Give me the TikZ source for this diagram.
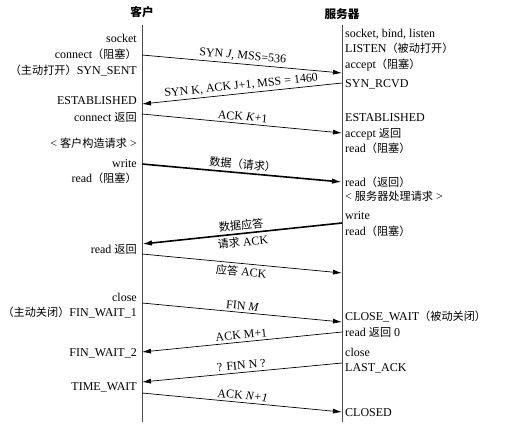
\documentclass[tikz,border=0pt]{standalone}
\usepackage{fontspec}
\setmainfont{Liberation Serif}
\newfontfamily\cjk[Scale=0.93]{Noto Sans CJK SC}
\usetikzlibrary{arrows.meta}
\newcommand\zh[1]{{\cjk #1}}
\begin{document}
\begin{tikzpicture}[x=1pt,y=-1pt,
  font=\fontsize{12}{14}\selectfont,
  ltxt/.style={anchor=base east, inner sep=0pt},
  rtxt/.style={anchor=base west, inner sep=0pt},
  head/.style={inner sep=0pt, font=\fontsize{12.5}{14}\selectfont\cjk\bfseries},
  life/.style={draw=black!70, line width=0.8pt},
  msg/.style={draw, line width=0.7pt, -{Latex[length=9pt,width=5pt]}},
  bigmsg/.style={draw, line width=1.6pt, -{Latex[length=10pt,width=5.5pt]}},
  lab/.style={sloped, pos=0.5, inner sep=2.5pt}]
\useasboundingbox (0,0) rectangle (523,432);
\fill[white] (0,0) rectangle (523,432);

% headers
\node[head] (hc) at (142,12) {客户};
\node[head] (hs) at (342,14) {服务器};

% lifelines
\coordinate (ct) at (142,25); \coordinate (cb) at (142,422);
\coordinate (st) at (342,25); \coordinate (sb) at (342,422);
\draw[life] (ct) -- (cb);
\draw[life] (st) -- (sb);

% message end points
\coordinate (c1) at (142,55);  \coordinate (s1) at (342,73);
\coordinate (s2) at (342,83);  \coordinate (c2) at (142,104);
\coordinate (c3) at (142,114); \coordinate (s3) at (342,133);
\coordinate (c4) at (142,164); \coordinate (s4) at (342,182);
\coordinate (s5) at (342,223); \coordinate (c5) at (142,244);
\coordinate (c6) at (142,254); \coordinate (s6) at (342,273);
\coordinate (c7) at (142,303); \coordinate (s7) at (342,322);
\coordinate (s8) at (342,332); \coordinate (c8) at (142,352);
\coordinate (s9) at (342,363); \coordinate (c9) at (142,382);
\coordinate (c10) at (142,393); \coordinate (s10) at (342,412);

% messages
\draw[msg] (c1) -- node[lab, above] {SYN \textit{J}, MSS=536} (s1);
\draw[msg] (s2) -- node[lab, above] {SYN K, ACK J+1, MSS = 1460} (c2);
\draw[msg] (c3) -- node[lab, above] {ACK \textit{K}+1} (s3);
\draw[bigmsg] (c4) -- node[lab, above] {\zh{数据（请求）}} (s4);
\draw[bigmsg] (s5) -- node[lab, above] {\zh{数据应答}} node[lab, below] {\zh{请求} ACK} (c5);
\draw[msg] (c6) -- node[lab, below] {\zh{应答} ACK} (s6);
\draw[msg] (c7) -- node[lab, above] {FIN \textit{M}} (s7);
\draw[msg] (s8) -- node[lab, above] {ACK M+1} (c8);
\draw[msg] (s9) -- node[lab, above] {? FIN N ?} (c9);
\draw[msg] (c10) -- node[lab, above] {ACK \textit{N+1}} (s10);

% client side texts
\node[ltxt] (l1) at (137,42) {socket};
\node[ltxt] (l2) at (137,58) {connect\zh{（阻塞）}};
\node[ltxt] (l3) at (137,74) {\zh{（主动打开）}SYN\_SENT};
\node[ltxt] (l4) at (137,104) {ESTABLISHED};
\node[ltxt] (l5) at (137,121) {connect \zh{返回}};
\node[ltxt] (l6) at (137,147) {\textless\ \zh{客户构造请求} \textgreater};
\node[ltxt] (l7) at (137,167) {write};
\node[ltxt] (l8) at (137,182) {read\zh{（阻塞）}};
\node[ltxt] (l9) at (137,253) {read \zh{返回}};
\node[ltxt] (l10) at (137,301) {close};
\node[ltxt] (l11) at (137,316) {\zh{（主动关闭）}FIN\_WAIT\_1};
\node[ltxt] (l12) at (137,356) {FIN\_WAIT\_2};
\node[ltxt] (l13) at (137,390) {TIME\_WAIT};

% server side texts
\node[rtxt] (r1) at (345,37) {socket, bind, listen};
\node[rtxt] (r2) at (345,52) {LISTEN\zh{（被动打开）}};
\node[rtxt] (r3) at (345,68) {accept\zh{（阻塞）}};
\node[rtxt] (r4) at (345,87) {SYN\_RCVD};
\node[rtxt] (r5) at (345,121) {ESTABLISHED};
\node[rtxt] (r6) at (345,137) {accept \zh{返回}};
\node[rtxt] (r7) at (345,152) {read\zh{（阻塞）}};
\node[rtxt] (r8) at (345,186) {read\zh{（返回）}};
\node[rtxt] (r9) at (345,200) {\textless\ \zh{服务器处理请求} \textgreater};
\node[rtxt] (r10) at (345,219) {write};
\node[rtxt] (r11) at (345,235) {read\zh{（阻塞）}};
\node[rtxt] (r12) at (345,320) {CLOSE\_WAIT\zh{（被动关闭）}};
\node[rtxt] (r13) at (345,336) {read \zh{返回} 0};
\node[rtxt] (r14) at (345,356) {close};
\node[rtxt] (r15) at (345,371) {LAST\_ACK};
\node[rtxt] (r16) at (345,416) {CLOSED};
\end{tikzpicture}
\end{document}
